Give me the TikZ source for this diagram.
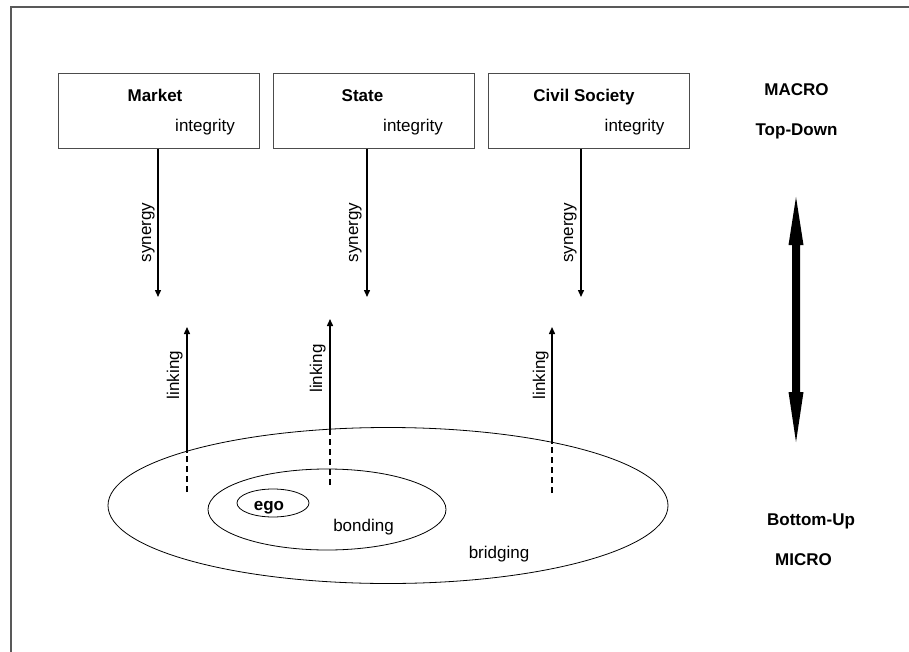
\documentclass[tikz,border=0pt]{standalone}
\usepackage{fontspec}
\setmainfont{Liberation Sans}
\usetikzlibrary{arrows.meta,shapes.geometric}
\begin{document}
\begin{tikzpicture}[x=1pt,y=-1pt,
  every node/.style={font=\fontsize{17}{20}\selectfont, inner sep=0pt, outer sep=0pt},
  frameline/.style={draw=black!65, line width=1.5pt},
  sector/.style={draw=black!70, line width=1pt, minimum width=201pt, minimum height=75pt},
  heading/.style={font=\fontsize{17}{20}\selectfont\bfseries, anchor=base},
  plain/.style={anchor=base},
  sidelabel/.style={anchor=base, rotate=90},
  flow/.style={line width=1.4pt, -{Triangle[length=7pt,width=6pt]}},
  hidden/.style={line width=1.4pt, dash pattern=on 6pt off 4pt},
  ring/.style={draw, ellipse, line width=0.8pt},
]
\useasboundingbox (0,0) rectangle (909,652);

% outer frame (left and top edges)
\coordinate (fr-bl) at (11,652);
\coordinate (fr-tl) at (11,7);
\coordinate (fr-tr) at (909,7);
\draw[frameline] (fr-bl) -- (fr-tl) -- (fr-tr);

% the three sectors
\node[sector] (market) at (158.5,111.5) {};
\node[sector] (state)  at (373.5,111.5) {};
\node[sector] (civil)  at (588.5,111.5) {};

\node[heading] (market-t) at (155,102) {Market};
\node[heading] (state-t)  at (362.5,102) {State};
\node[heading] (civil-t)  at (584,102) {Civil Society};
\node[plain] (market-i) at (205,132) {integrity};
\node[plain] (state-i)  at (413,132) {integrity};
\node[plain] (civil-i)  at (634.5,132) {integrity};

% level labels on the right
\node[heading] (macro)    at (796.5,96)  {MACRO};
\node[heading] (topdown)  at (796.5,136) {Top-Down};
\node[heading] (bottomup) at (811,525)   {Bottom-Up};
\node[heading] (micro)    at (803.5,565) {MICRO};

% nested circles of ties
\node[ring, minimum width=560pt, minimum height=156pt] (bridge) at (388,505.5) {};
\node[ring, minimum width=238pt, minimum height=81pt]  (bond)   at (327,509.5) {};
\node[ring, minimum width=72pt,  minimum height=28pt]  (ego)    at (273,503)   {};
\node[heading] (ego-t)   at (269,510) {ego};
\node[plain]   (bond-t)  at (363.5,531) {bonding};
\node[plain]   (bridge-t) at (499,558) {bridging};

% synergy: top-down arrows
\coordinate (mk-syn) at (158,297);
\coordinate (st-syn) at (367,297);
\coordinate (cv-syn) at (581,297);
\draw[flow] (market.south -| mk-syn) -- (mk-syn);
\draw[flow] (state.south -| st-syn) -- (st-syn);
\draw[flow] (civil.south -| cv-syn) -- (cv-syn);
\node[sidelabel] (mk-syn-l) at (151,232.5) {synergy};
\node[sidelabel] (st-syn-l) at (358,232.5) {synergy};
\node[sidelabel] (cv-syn-l) at (573,233) {synergy};

% linking: bottom-up arrows rising out of the bridging circle
\coordinate (mk-foot) at (187,492);
\coordinate (mk-rim)  at (187,451.5);
\coordinate (mk-tip)  at (187,327);
\coordinate (st-foot) at (330,485);
\coordinate (st-rim)  at (330,429.5);
\coordinate (st-tip)  at (330,319);
\coordinate (cv-foot) at (552,493);
\coordinate (cv-rim)  at (552,442.5);
\coordinate (cv-tip)  at (552,327);
\draw[hidden] (mk-foot) -- (mk-rim);
\draw[hidden] (st-foot) -- (st-rim);
\draw[hidden] (cv-foot) -- (cv-rim);
\draw[flow] (mk-rim) -- (mk-tip);
\draw[flow] (st-rim) -- (st-tip);
\draw[flow] (cv-rim) -- (cv-tip);
\node[sidelabel] (mk-link) at (179,375) {linking};
\node[sidelabel] (st-link) at (322,368.5) {linking};
\node[sidelabel] (cv-link) at (545,375) {linking};

% large two-headed arrow between the levels
\fill (796,197) -- (803.5,245) -- (800,245) -- (800,392) -- (803.5,392)
  -- (796,442) -- (788.5,392) -- (792,392) -- (792,245) -- (788.5,245) -- cycle;
\end{tikzpicture}
\end{document}
